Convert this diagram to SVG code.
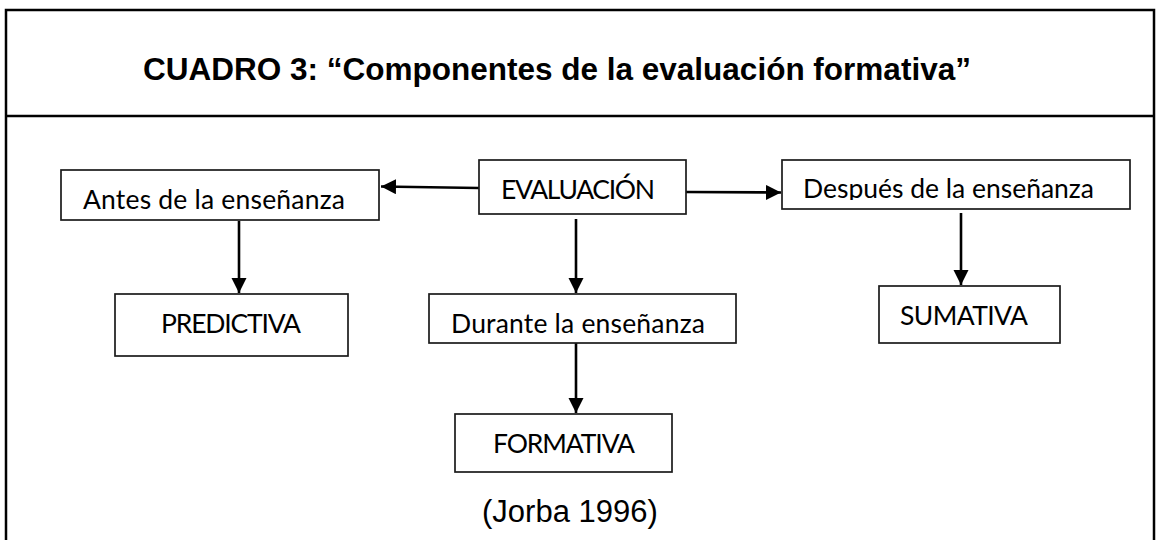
<svg xmlns="http://www.w3.org/2000/svg" width="1156" height="540" viewBox="0 0 1156 540">
<style>
.frame{fill:none;stroke:#000;stroke-width:2.5}
.box{fill:#fff;stroke:#1a1a1a;stroke-width:1.7}
.lbl{font-family:Lato,"Open Sans","Noto Sans",sans-serif;font-size:26.5px;fill:#000}
.title{font-family:"Liberation Sans",Arial,sans-serif;font-weight:bold;font-size:31.5px;fill:#000}
.cite{font-family:"Liberation Sans",Arial,sans-serif;font-size:31px;fill:#000}
.conn{fill:none;stroke:#000;stroke-width:2.6}
</style>
<defs>
<marker id="ah" markerUnits="userSpaceOnUse" markerWidth="16" markerHeight="16" refX="15" refY="7.5" orient="auto">
<path d="M0,0 L15,7.5 L0,15 Z" fill="#000"/>
</marker>
<clipPath id="clipDes"><rect x="782" y="150" width="350" height="50"/></clipPath>
</defs>
<rect width="1156" height="540" fill="#fff"/>
<g id="frame">
<rect class="frame" x="6" y="10" width="1148" height="545"/>
<line class="frame" x1="6" y1="116" x2="1154" y2="116"/>
<text class="title" x="143" y="80">CUADRO 3: “Componentes de la evaluación formativa”</text>
</g>
<g id="connectors">
<path class="conn" d="M479,188 L381,186.5" marker-end="url(#ah)"/>
<path class="conn" d="M686,192 L781,192.5" marker-end="url(#ah)"/>
<path class="conn" d="M576,219 L576,293" marker-end="url(#ah)"/>
<path class="conn" d="M239,221 L239,293" marker-end="url(#ah)"/>
<path class="conn" d="M576,343 L576,413" marker-end="url(#ah)"/>
<path class="conn" d="M961,213 L961,285" marker-end="url(#ah)"/>
</g>
<g id="evaluacion">
<rect class="box" x="479" y="160" width="207" height="54"/>
<text class="lbl" x="501" y="199" textLength="154">EVALUACIÓN</text>
</g>
<g id="antes">
<rect class="box" x="61" y="170" width="318" height="50"/>
<text class="lbl" x="83" y="209" textLength="262">Antes de la enseñanza</text>
</g>
<g id="despues">
<rect class="box" x="782" y="160" width="348" height="49"/>
<text class="lbl" x="803" y="198" textLength="291" clip-path="url(#clipDes)">Después de la enseñanza</text>
</g>
<g id="predictiva">
<rect class="box" x="115" y="294" width="233" height="62"/>
<text class="lbl" x="161" y="333" textLength="140">PREDICTIVA</text>
</g>
<g id="durante">
<rect class="box" x="429" y="294" width="307" height="49"/>
<text class="lbl" x="451" y="333" textLength="254">Durante la enseñanza</text>
</g>
<g id="sumativa">
<rect class="box" x="879" y="286" width="181" height="57"/>
<text class="lbl" x="900" y="325" textLength="128">SUMATIVA</text>
</g>
<g id="formativa">
<rect class="box" x="455" y="414" width="217" height="58"/>
<text class="lbl" x="493" y="453" textLength="142">FORMATIVA</text>
</g>
<g id="cita">
<text class="cite" x="482" y="522">(Jorba 1996)</text>
</g>
</svg>
